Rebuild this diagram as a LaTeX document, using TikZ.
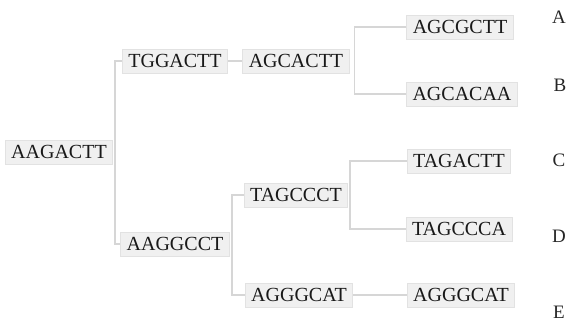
\documentclass[tikz,border=0pt]{standalone}
\usepackage{fontspec}
\setmainfont{Liberation Serif}
\definecolor{boxfill}{HTML}{F0F0F0}
\definecolor{boxline}{HTML}{E2E2E2}
\definecolor{conncol}{HTML}{D6D6D6}
\tikzset{
  seq/.style={draw=boxline, fill=boxfill, line width=0.8pt, inner xsep=6pt, inner ysep=0pt,
    minimum height=24pt, font=\fontsize{20}{24}\selectfont, text=black!90},
  leaf/.style={font=\fontsize{19}{22}\selectfont, text=black!85},
  conn/.style={draw=conncol, line width=1.6pt}
}
\begin{document}
\begin{tikzpicture}[x=1pt,y=-1pt]
\useasboundingbox (0,0) rectangle (571,323);
\node[seq] (root) at (59,152) {AAGACTT};
\node[seq] (n1) at (175,61) {TGGACTT};
\node[seq] (n2) at (175,244) {AAGGCCT};
\node[seq] (n3) at (296,61) {AGCACTT};
\node[seq] (n4) at (296,195) {TAGCCCT};
\node[seq] (n5) at (299,295) {AGGGCAT};
\node[seq] (la) at (460,27) {AGCGCTT};
\node[seq] (lb) at (462,94) {AGCACAA};
\node[seq] (lc) at (459,161) {TAGACTT};
\node[seq] (ld) at (459,229) {TAGCCCA};
\node[seq] (le) at (461,295) {AGGGCAT};
\node[leaf] (ta) at (559,17) {A};
\node[leaf] (tb) at (560,85) {B};
\node[leaf] (tc) at (559,160) {C};
\node[leaf] (td) at (559,236) {D};
\node[leaf] (te) at (559,312) {E};
% connectors
\coordinate (j1) at ([xshift=2pt]root.east);
\draw[conn] (n1.west) -| (j1) |- (n2.west);
\draw[conn] (n1.east) -- (n3.west);
\coordinate (j2) at ([xshift=5pt]n3.east);
\draw[conn] (la.west) -| (j2) |- (lb.west);
\coordinate (j3) at ([xshift=2pt]n2.east);
\draw[conn] (n4.west) -| (j3) |- (n5.west);
\coordinate (j4) at ([xshift=2pt]n4.east);
\draw[conn] (lc.west) -| (j4) |- (ld.west);
\draw[conn] (n5.east) -- (le.west);
\end{tikzpicture}
\end{document}
